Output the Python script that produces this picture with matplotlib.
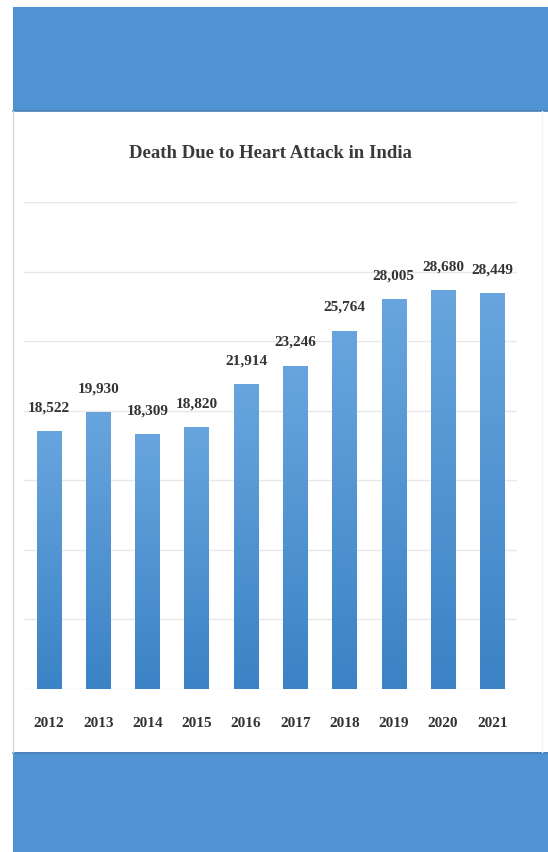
import matplotlib
matplotlib.use('Agg')
import matplotlib.pyplot as plt
import numpy as np
from matplotlib.patches import Rectangle
from matplotlib.lines import Line2D
from matplotlib.colors import LinearSegmentedColormap

# ---- data ----
years = ['2012', '2013', '2014', '2015', '2016', '2017', '2018', '2019', '2020', '2021']
deaths = [18522, 19930, 18309, 18820, 21914, 23246, 25764, 28005, 28680, 28449]
title = "Death Due to Heart Attack in India"
y_max = 35000
y_step = 5000

W, H = 548, 852
fig = plt.figure(figsize=(W / 100, H / 100), dpi=100)
fig.patch.set_facecolor('white')

def rect(x0, y0, x1, y1):
    return [x0 / W, 1 - y1 / H, (x1 - x0) / W, (y1 - y0) / H]

band = '#4f93d3'
edge = '#4a80b8'
for (y0, y1) in [(7, 111), (752, 852)]:
    r = rect(13, y0, W, y1)
    fig.add_artist(Rectangle((r[0], r[1]), r[2], r[3], transform=fig.transFigure,
                             facecolor=band, edgecolor='none', zorder=0))
fig.add_artist(Line2D([13 / W, 1], [1 - 110.5 / H] * 2, transform=fig.transFigure,
                      color=edge, lw=1.2, zorder=1))
fig.add_artist(Line2D([13 / W, 1], [1 - 752.5 / H] * 2, transform=fig.transFigure,
                      color=edge, lw=1.2, zorder=1))
fig.add_artist(Line2D([13 / W, 13 / W], [1 - 752 / H, 1 - 111 / H], transform=fig.transFigure,
                      color='#d8d8d8', lw=1, zorder=1))
fig.add_artist(Line2D([542 / W, 542 / W], [1 - 752 / H, 1 - 111 / H], transform=fig.transFigure,
                      color='#f2f2f2', lw=1, zorder=1))

fig.text(270 / W, 1 - 153 / H, title, ha='center', va='center', fontsize=13.5,
         fontweight='bold', family='Liberation Serif', color='#3a3a3a')

ax = fig.add_axes(rect(24.4, 202, 517, 689))
ax.set_facecolor('none')
x = np.arange(len(years))
bars = ax.bar(x, deaths, width=0.5, color='none', edgecolor='none', zorder=2)

cmap = LinearSegmentedColormap.from_list('g', ['#3b83c5', '#68a5de'])
grad = np.linspace(0, 1, 256).reshape(-1, 1)
for b in bars:
    x0, w, h = b.get_x(), b.get_width(), b.get_height()
    im = ax.imshow(grad, cmap=cmap, origin='lower', aspect='auto',
                   extent=[x0, x0 + w, 0, h], zorder=2)
    im.set_clip_path(b)

for xi, v in zip(x, deaths):
    ax.annotate(f"{v:,}", (xi, v), xytext=(0, 12), textcoords='offset points',
                ha='center', va='bottom', fontsize=11, fontweight='bold',
                family='Liberation Serif', color='#333333')

ax.set_xlim(-0.5, len(years) - 0.5)
ax.set_ylim(0, y_max)
ax.set_yticks(np.arange(0, y_max + 1, y_step))
ax.set_yticklabels([])
ax.yaxis.grid(True, color='#e8e8e8', lw=1, zorder=0)
ax.set_axisbelow(True)
ax.set_xticks(x)
ax.set_xticklabels(years, fontsize=11, fontweight='bold', family='Liberation Serif',
                   color='#333333')
ax.tick_params(axis='both', length=0)
ax.tick_params(axis='x', pad=20)
for s in ax.spines.values():
    s.set_visible(False)

fig.savefig('out.png', dpi=100, facecolor='white')
